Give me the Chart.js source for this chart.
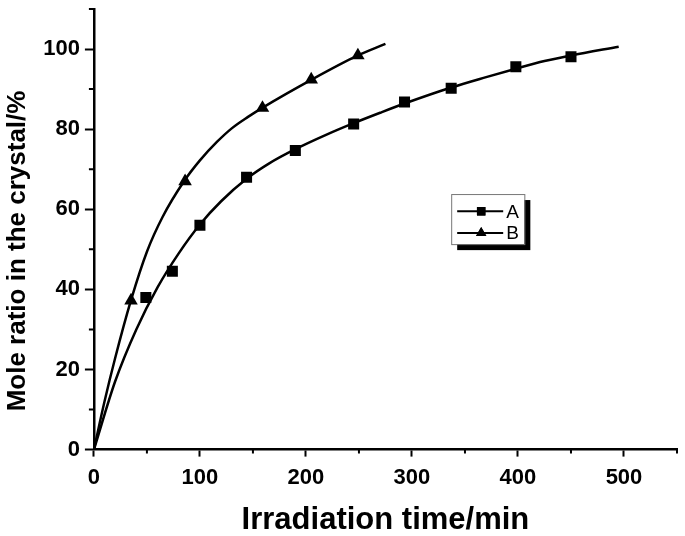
<!DOCTYPE html>
<html>
<head>
<meta charset="utf-8">
<script src="https://cdn.jsdelivr.net/npm/chart.js@4"></script>
<style>
  body { margin: 0; background: #fff; }
  #wrap { width: 685px; height: 536px; }
</style>
</head>
<body>
<div id="wrap"><canvas id="ratioChart"></canvas></div>
<script>
// fitted curves
const fitAx = [0, 20, 40, 60, 80, 100, 120, 144, 165, 190, 220, 245, 270, 293, 337, 370, 398, 425, 450, 495];
const fitAy = [0, 17, 30, 40.5, 49, 56.2, 62, 67.6, 71.4, 75, 78.7, 81.5, 84.1, 86.4, 90.4, 93, 95.1, 97, 98.4, 100.6];
const fitBx = [0, 10, 20, 35, 50, 65, 85, 100, 116, 130, 145, 160, 205, 249, 275];
const fitBy = [0, 12, 22.8, 37.3, 49.4, 58.2, 67, 72.2, 76.8, 80.2, 83, 85.5, 92.3, 98.4, 101.3];

// measured points
const ptAx = [49, 74, 100, 144, 190, 245, 293, 337, 398, 450];
const ptAy = [38, 44.5, 56, 68, 74.7, 81.3, 86.8, 90.2, 95.6, 98.1];
const ptBx = [35, 86, 159, 205, 249];
const ptBy = [37.2, 67, 85.3, 92.4, 98.4];

const xTicks = [0, 100, 200, 300, 400, 500];
const xMinor = [50, 150, 250, 350, 450, 550];
const yTicks = [0, 20, 40, 60, 80, 100];
const yMinor = [10, 30, 50, 70, 90, 110];

const seriesNames = ['A', 'B'];

const toXY = (xs, ys) => xs.map((x, i) => ({ x: x, y: ys[i] }));
const FONT = '"Liberation Sans", Arial, sans-serif';

// short outward ticks between the labelled ones
const minorTicks = {
    id: 'minorTicks',
    afterDraw(chart) {
        const ctx = chart.ctx;
        const xs = chart.scales.x, ys = chart.scales.y;
        ctx.save();
        ctx.strokeStyle = '#000';
        ctx.lineWidth = 2;
        ctx.beginPath();
        xMinor.forEach(v => {
            const px = xs.getPixelForValue(v);
            ctx.moveTo(px, xs.top);
            ctx.lineTo(px, xs.top + 4);
        });
        yMinor.forEach(v => {
            const py = ys.getPixelForValue(v);
            ctx.moveTo(ys.right, py);
            ctx.lineTo(ys.right - 5, py);
        });
        ctx.stroke();
        ctx.restore();
    }
};

// boxed legend with drop shadow, as in the original plot
const boxLegend = {
    id: 'boxLegend',
    afterDraw(chart) {
        const ctx = chart.ctx;
        const xs = chart.scales.x, ys = chart.scales.y;
        const left = xs.getPixelForValue(337), right = xs.getPixelForValue(406);
        const top = ys.getPixelForValue(63.8), bottom = ys.getPixelForValue(51.3);
        ctx.save();
        ctx.fillStyle = '#000';
        ctx.fillRect(left + 6, top + 6, right - left, bottom - top);
        ctx.fillStyle = '#fff';
        ctx.fillRect(left, top, right - left, bottom - top);
        ctx.strokeStyle = '#777';
        ctx.lineWidth = 1;
        ctx.strokeRect(left + 0.5, top + 0.5, right - left, bottom - top);

        const rows = [ys.getPixelForValue(59.5), ys.getPixelForValue(54.1)];
        const styles = ['rect', 'triangle'];
        rows.forEach((py, i) => {
            ctx.strokeStyle = '#000';
            ctx.lineWidth = 2;
            ctx.beginPath();
            ctx.moveTo(left + 6, py);
            ctx.lineTo(left + 52, py);
            ctx.stroke();
            ctx.fillStyle = '#000';
            Chart.helpers.drawPoint(ctx, { pointStyle: styles[i], radius: 6, borderWidth: 0 }, left + 30, py);
            ctx.fill();
            ctx.font = '19px ' + FONT;
            ctx.textBaseline = 'middle';
            ctx.textAlign = 'left';
            ctx.fillText(seriesNames[i], left + 55, py + 1);
        });
        ctx.restore();
    }
};

const lineStyle = {
    borderColor: '#000',
    borderWidth: 2.5,
    pointRadius: 0,
    fill: false,
    cubicInterpolationMode: 'monotone'
};
const markStyle = {
    showLine: false,
    backgroundColor: '#000',
    borderColor: '#000',
    borderWidth: 0,
    pointRadius: 7.8
};

const ctx = document.getElementById('ratioChart').getContext('2d');
const ratioChart = new Chart(ctx, {
    type: 'line',
    data: {
        datasets: [
            Object.assign({ label: 'A fit', data: toXY(fitAx, fitAy) }, lineStyle),
            Object.assign({ label: 'B fit', data: toXY(fitBx, fitBy) }, lineStyle),
            Object.assign({ label: seriesNames[0], data: toXY(ptAx, ptAy), pointStyle: 'rect' }, markStyle),
            Object.assign({ label: seriesNames[1], data: toXY(ptBx, ptBy), pointStyle: 'triangle', pointRadius: 8.5 }, markStyle)
        ]
    },
    options: {
        responsive: true,
        maintainAspectRatio: false,
        animation: false,
        layout: { padding: { left: 2, right: 8, top: 9, bottom: 0 } },
        scales: {
            x: {
                type: 'linear',
                min: 0,
                max: 550,
                afterBuildTicks: s => { s.ticks = xTicks.map(v => ({ value: v })); },
                border: { color: '#000', width: 2.5 },
                grid: { drawOnChartArea: false, tickLength: 7, tickColor: '#000', tickWidth: 2 },
                ticks: { color: '#000', font: { family: FONT, size: 22, weight: 'bold' }, padding: 8, maxRotation: 0 },
                title: {
                    display: true,
                    text: 'Irradiation time/min',
                    color: '#000',
                    font: { family: FONT, size: 31, weight: 'bold', lineHeight: 1 },
                    padding: { top: 6, bottom: 0 }
                }
            },
            y: {
                type: 'linear',
                min: 0,
                max: 110,
                afterBuildTicks: s => { s.ticks = yTicks.map(v => ({ value: v })); },
                afterFit: s => { s.paddingTop = 0; },
                border: { color: '#000', width: 2.5 },
                grid: { drawOnChartArea: false, tickLength: 9, tickColor: '#000', tickWidth: 2 },
                ticks: { color: '#000', font: { family: FONT, size: 22, weight: 'bold' }, padding: 5 },
                title: {
                    display: true,
                    // trailing spaces push the label down like in the source figure
                    text: 'Mole ratio in the crystal/%\u00a0\u00a0\u00a0\u00a0\u00a0\u00a0',
                    color: '#000',
                    font: { family: FONT, size: 26, weight: 'bold' },
                    padding: { top: 0, bottom: 5 }
                }
            }
        },
        plugins: {
            legend: { display: false },
            tooltip: { enabled: false }
        }
    },
    plugins: [minorTicks, boxLegend]
});
</script>
</body>
</html>
